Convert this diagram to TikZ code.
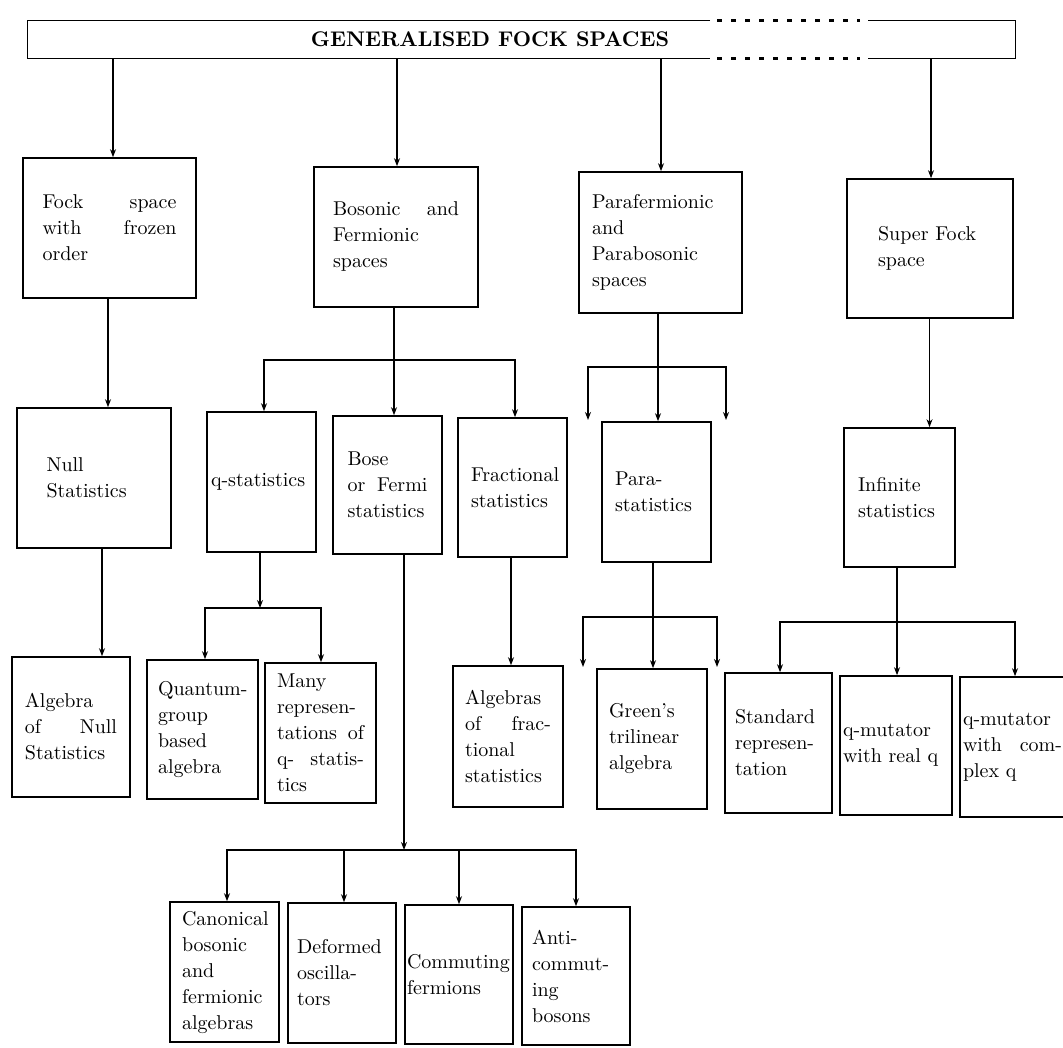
\documentclass[tikz,border=0pt]{standalone}
\usetikzlibrary{arrows.meta}
\hyphenpenalty=10000
\exhyphenpenalty=10000
\begin{document}
\begin{tikzpicture}[x=0.5pt,y=-0.5pt,
  bx/.style={draw, line width=0.8pt, rectangle, align=left, inner ysep=0pt,
    font=\fontsize{10}{13}\selectfont},
  arr/.style={line width=0.6pt, -{Stealth[length=4pt,width=3pt]}},
  arrs/.style={line width=0.6pt, {Stealth[length=4pt,width=3pt]}-{Stealth[length=4pt,width=3pt]}},
  ln/.style={line width=0.8pt},
  dots/.style={line width=1.2pt, dash pattern=on 2.5pt off 4.5pt}]
\clip (0,0) rectangle (1063,1047);
\fill[white] (0,0) rectangle (1063,1047);

% ---- top box
\node[minimum width=493.5pt, minimum height=18.5pt, inner sep=0pt] (gfs) at (521.5,39.5) {};
\node[font=\bfseries\fontsize{10.6}{12}\selectfont, inner sep=0pt] (title) at (490,39) {GENERALISED FOCK SPACES};
\coordinate (d1) at (710,0);
\coordinate (d2) at (717,0);
\coordinate (d3) at (860,0);
\coordinate (d4) at (868,0);
\draw[ln] (d1 |- gfs.north) -- (gfs.north west) -- (gfs.south west) -- (d1 |- gfs.south);
\draw[ln] (d4 |- gfs.north) -- (gfs.north east) -- (gfs.south east) -- (d4 |- gfs.south);
\draw[dots] (d2 |- gfs.north) -- (d3 |- gfs.north);
\draw[dots] (d2 |- gfs.south) -- (d3 |- gfs.south);

% ---- second row
\node[bx, inner xsep=9.75pt, text width=67pt, minimum height=70pt] (fock) at (109.5,228)
  {Fock\hfill space\\with\hfill frozen\\order};
\node[bx, inner xsep=9.5pt, text width=63pt, minimum height=70pt] (bos) at (396,237)
  {Bosonic\hfill and\\Fermionic\\spaces};
\node[bx, inner xsep=6.5pt, text width=68.5pt, minimum height=70.5pt] (pf) at (660.5,242.5)
  {Parafermionic\\and\\Parabosonic\\spaces};
\node[bx, inner xsep=15.5pt, text width=52pt, minimum height=69.5pt] (sf) at (930,248.5)
  {Super Fock\\space};

% ---- third row
\node[bx, inner xsep=14.75pt, text width=47.5pt, minimum height=70pt] (null) at (94,478)
  {Null\\Statistics};
\node[bx, inner xsep=2pt, text width=50.5pt, minimum height=70pt] (qs) at (261.5,482)
  {q-statistics};
\node[bx, inner xsep=7.25pt, text width=40pt, minimum height=69pt] (bf) at (387.5,485)
  {Bose\\or\hfill Fermi\\statistics};
\node[bx, inner xsep=6.5pt, text width=41.5pt, minimum height=69.5pt] (fr) at (512.5,487.5)
  {Fractional\\statistics};
\node[bx, inner xsep=6.5pt, text width=41.5pt, minimum height=70pt] (ps) at (656.5,492)
  {Para-\\statistics};
\node[bx, inner xsep=7pt, text width=41.5pt, minimum height=69.5pt] (inf) at (899.5,497.5)
  {Infinite\\statistics};

% ---- fourth row
\node[bx, inner xsep=6.5pt, text width=46pt, minimum height=70pt] (anull) at (71,727)
  {Algebra\\of\hfill Null\\Statistics};
\node[bx, inner xsep=5.5pt, text width=44.5pt, minimum height=69.5pt] (quant) at (202.5,729.5)
  {Quantum-\\group\\based\\algebra};
\node[bx, inner xsep=6pt, text width=43.5pt, minimum height=70pt] (many) at (320.5,733)
  {Many\\represen-\\tations\hfill of\\q-\hfill statis-\\tics};
\node[bx, inner xsep=6pt, text width=43pt, minimum height=70.5pt] (afr) at (508,736.5)
  {Algebras\\of\hfill frac-\\tional\\statistics};
\node[bx, inner xsep=6pt, text width=43pt, minimum height=70pt] (green) at (652,739)
  {Green's\\trilinear\\algebra};
\node[bx, inner xsep=5pt, text width=43.5pt, minimum height=70pt] (std) at (778.5,743)
  {Standard\\represen-\\tation};
\node[bx, inner xsep=1.5pt, text width=53pt, minimum height=69.5pt] (qreal) at (896,745.5)
  {q-mutator\\with real q};
\node[bx, inner xsep=1.5pt, text width=49.5pt, minimum height=70pt] (qcomp) at (1012.5,747)
  {q-mutator\\with\hfill com-\\plex q};

% ---- fifth row
\node[bx, inner xsep=6pt, text width=42.5pt, minimum height=70pt] (can) at (224.5,972)
  {Canonical\\bosonic\\and\\fermionic\\algebras};
\node[bx, inner xsep=4.5pt, text width=45pt, minimum height=70pt] (def) at (342,973)
  {Deformed\\oscilla-\\tors};
\node[bx, inner xsep=1pt, text width=52pt, minimum height=69.5pt] (com) at (459,974.5)
  {Commuting\\fermions};
\node[bx, inner xsep=5pt, text width=44pt, minimum height=69pt] (anti) at (576,976)
  {Anti-\\commut-\\ing\\bosons};

% ---- connector positions
\coordinate (xa) at (113,0);   \coordinate (xb) at (397,0);
\coordinate (xc) at (661,0);   \coordinate (xd) at (931,0);
\coordinate (xe) at (108,0);   \coordinate (xf) at (102,0);
\coordinate (xg) at (394,0);   \coordinate (xh) at (264,0);
\coordinate (xi) at (515,0);   \coordinate (xj) at (260,0);
\coordinate (xk) at (205,0);   \coordinate (xl) at (321,0);
\coordinate (xm) at (658,0);   \coordinate (xn) at (588,0);
\coordinate (xo) at (726,0);   \coordinate (xp) at (653,0);
\coordinate (xq) at (583,0);   \coordinate (xr) at (717,0);
\coordinate (xs) at (929.5,0); \coordinate (xt) at (897,0);
\coordinate (xu) at (780,0);   \coordinate (xv) at (1015,0);
\coordinate (xw) at (511,0);   \coordinate (xx) at (404,0);
\coordinate (xy) at (227,0);   \coordinate (xz) at (344,0);
\coordinate (xaa) at (459,0);  \coordinate (xab) at (576,0);
\coordinate (bbar) at (0,360);  \coordinate (qbar) at (0,608);
\coordinate (pfbar) at (0,367); \coordinate (psbar) at (0,617);
\coordinate (ibar) at (0,622);  \coordinate (fbar) at (0,850);
\coordinate (pfend) at (0,420); \coordinate (psend) at (0,667);

% ---- connectors
\draw[arr] (xa |- gfs.south) -- (xa |- fock.north);
\draw[arr] (xb |- gfs.south) -- (xb |- bos.north);
\draw[arr] (xc |- gfs.south) -- (xc |- pf.north);
\draw[arr] (xd |- gfs.south) -- (xd |- sf.north);

\draw[arr] (xe |- fock.south) -- (xe |- null.north);
\draw[arr] (xf |- null.south) -- (xf |- anull.north);

\draw[arr] (xg |- bos.south) -- (xg |- bf.north);
\draw[arrs] (xh |- qs.north) -- (xh |- bbar) -- (xi |- bbar) -- (xi |- fr.north);

\draw[arr] (xj |- qs.south) -- (xj |- qbar);
\draw[arrs] (xk |- quant.north) -- (xk |- qbar) -- (xl |- qbar) -- (xl |- many.north);

\draw[arr] (xw |- fr.south) -- (xw |- afr.north);

\draw[arr] (xm |- pf.south) -- (xm |- ps.north);
\draw[arrs] (xn |- pfend) -- (xn |- pfbar) -- (xo |- pfbar) -- (xo |- pfend);

\draw[arr] (xp |- ps.south) -- (xp |- green.north);
\draw[arrs] (xq |- psend) -- (xq |- psbar) -- (xr |- psbar) -- (xr |- psend);

\draw[arr] (xs |- sf.south) -- (xs |- inf.north);
\draw[arr] (xt |- inf.south) -- (xt |- qreal.north);
\draw[arrs] (xu |- std.north) -- (xu |- ibar) -- (xv |- ibar) -- (xv |- qcomp.north);

\draw[arr] (xx |- bf.south) -- (xx |- fbar);
\draw[arrs] (xy |- can.north) -- (xy |- fbar) -- (xab |- fbar) -- (xab |- anti.north);
\draw[arr] (xz |- fbar) -- (xz |- def.north);
\draw[arr] (xaa |- fbar) -- (xaa |- com.north);
\end{tikzpicture}
\end{document}
